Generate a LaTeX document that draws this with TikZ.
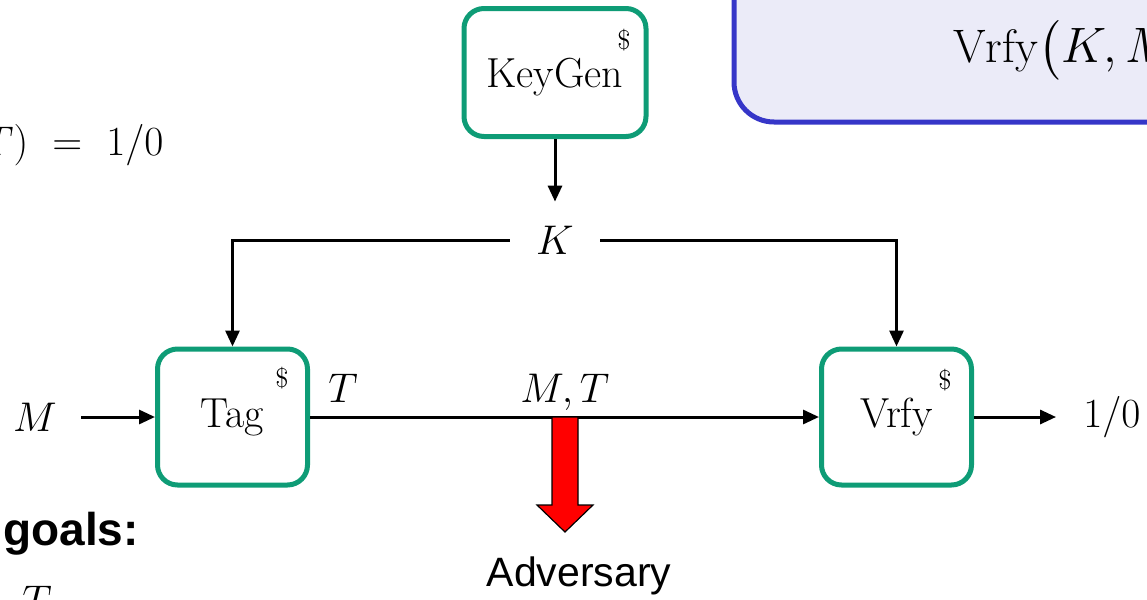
\documentclass[tikz,border=0pt]{standalone}
\usepackage{amsmath}
\usepackage{fontspec}
\newfontfamily\arialfont{Liberation Sans}
\usetikzlibrary{arrows.meta}
\definecolor{boxgreen}{HTML}{0E9C76}
\definecolor{hintblue}{HTML}{3636C8}
\definecolor{hintfill}{HTML}{EBEBF8}

\begin{document}
\begin{tikzpicture}[x=0.5pt, y=-0.5pt]
  \useasboundingbox (0, 0) rectangle (1147, 600);
  \clip (0, 0) rectangle (1147, 600);  % Slide-Ausschnitt.
  \tikzstyle{algo}=[draw=boxgreen, line width=2.5pt, rounded corners=10pt, fill=white, minimum width=75pt, minimum height=68pt, inner sep=0pt, font=\fontsize{21}{25}\selectfont]
  \tikzstyle{coin}=[inner sep=0pt, font=\fontsize{13.5}{16}\selectfont]
  \tikzstyle{lbl}=[inner sep=0pt, font=\fontsize{21}{25}\selectfont]
  \tikzstyle{arr}=[draw, line width=1.5pt, -{Triangle[length=8pt, width=7pt]}]

  \draw[draw=hintblue, fill=hintfill, line width=2.5pt, rounded corners=20pt] (734, -60) rectangle (1220, 122);
  \node[lbl, anchor=west, font=\fontsize{23.5}{28}\selectfont] (hint) at (953, 50) {$\mathrm{Vrfy}\bigl(K, M$};

  \node[lbl, anchor=east] (eqn) at (164, 145) {$T)\ =\ 1/0$};
  \node[anchor=base west, inner sep=0pt, font=\arialfont\bfseries\fontsize{23}{28}\selectfont] (goals) at (3, 545) {goals:};
  \node[lbl, anchor=base] (tcut) at (37, 614) {$T$};

  \node[algo, minimum width=91pt, minimum height=64pt, text depth=0pt] (keygen) at (555, 72.5) {KeyGen};
  \node[algo] (tag)  at (232.5, 417) {Tag};
  \node[algo] (vrfy) at (896.5, 417) {Vrfy};
  \node[coin] at (624, 40)  {\$};
  \node[coin] at (282, 378) {\$};
  \node[coin] at (945, 380) {\$};

  \node[lbl, minimum width=45pt, minimum height=38pt] (k) at (555, 240) {$K$};
  \node[lbl] (m)   at (35, 417)   {$M$};
  \node[lbl] (out) at (1112, 417) {$1/0$};
  \node[lbl, anchor=base] (t)  at (343, 402) {$T$};
  \node[lbl, anchor=base] (mt) at (565, 402) {$M,T$};
  \node[inner sep=0pt, font=\arialfont\fontsize{20.5}{25}\selectfont] (adv) at (579, 576) {Adversary};

  \path (keygen) edge[arr] (k);
  \path[arr] (k.west) -| (tag.north);
  \path[arr] (k.east) -| (vrfy.north);
  \path (m) edge[arr, shorten <=12pt] (tag);
  \path (tag) edge[arr] (vrfy);
  \path (vrfy) edge[arr, shorten >=13.5pt] (out);

  \coordinate (leak) at (565, 417);
  \draw[fill=red, line width=0.6pt, shift={(leak)}] (-13, 0) -- (13, 0) -- (13, 88) -- (28, 88) -- (0, 115) -- (-28, 88) -- (-13, 88) -- cycle;
\end{tikzpicture}
\end{document}
